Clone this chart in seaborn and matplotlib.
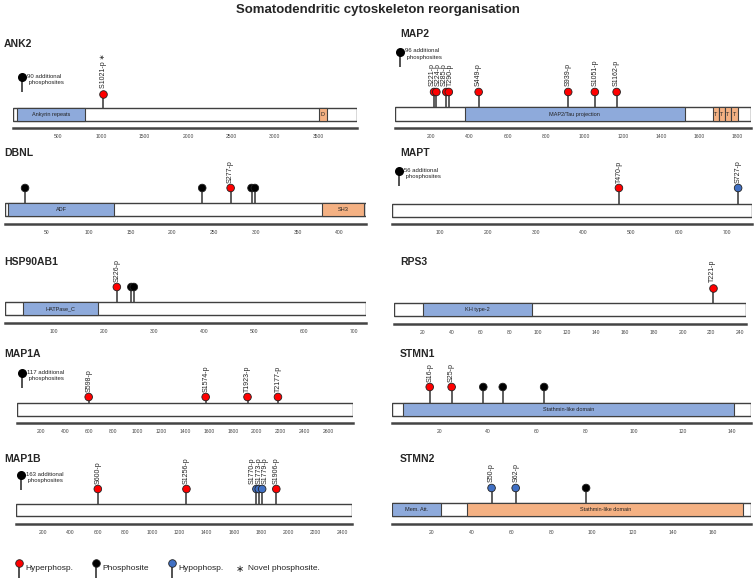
import seaborn as sns
import matplotlib.pyplot as plt
import pandas as pd

W, H = 756, 583

# ---------------- data ----------------
title = "Somatodendritic cytoskeleton reorganisation"

# residue span drawn for each protein box
ank2_span = (-20, 3950)
ank2_ticks = [500, 1000, 1500, 2000, 2500, 3000, 3500]
ank2_domains = [(30, 811, "Ankyrin repeats", "blue"), (3511, 3604, "D", "orange")]
ank2_sites = [(1021, "S1021-p \u2217", "hyper")]
ank2_extra = 90

map2_span = (10, 1870)
map2_ticks = [200, 400, 600, 800, 1000, 1200, 1400, 1600, 1800]
map2_domains = [(377, 1523, "MAP2/Tau projection", "blue"),
                (1671, 1701, "T", "orange"), (1701, 1732, "T", "orange"),
                (1732, 1764, "T", "orange"), (1764, 1800, "T", "orange")]
map2_sites = [(214, "S221-p", "hyper"), (226, "S224-p", "hyper"),
              (278, "S285-p", "hyper"), (291, "T290-p", "hyper"),
              (447, "S449-p", "hyper"), (915, "S939-p", "hyper"),
              (1054, "S1051-p", "hyper"), (1168, "S1162-p", "hyper")]
map2_extra = 96

dbnl_span = (0, 432)
dbnl_ticks = [50, 100, 150, 200, 250, 300, 350, 400]
dbnl_domains = [(3, 131, "ADF", "blue"), (379, 430, "SH3", "orange")]
dbnl_sites = [(24, "", "phospho"), (236, "", "phospho"), (270, "S277-p", "hyper"),
              (295, "", "phospho"), (299, "", "phospho")]
dbnl_extra = None

mapt_span = (0, 752)
mapt_ticks = [100, 200, 300, 400, 500, 600, 700]
mapt_domains = []
mapt_sites = [(474, "T470-p", "hyper"), (723, "S727-p", "hypo")]
mapt_extra = 56

hsp_span = (2, 725)
hsp_ticks = [100, 200, 300, 400, 500, 600, 700]
hsp_domains = [(38, 188, "HATPase_C", "blue")]
hsp_sites = [(226, "S226-p", "hyper"), (255, "", "phospho"), (260, "", "phospho")]
hsp_extra = None

rps3_span = (0, 244)
rps3_ticks = [20, 40, 60, 80, 100, 120, 140, 160, 180, 200, 220, 240]
rps3_domains = [(20, 96, "KH type-2", "blue")]
rps3_sites = [(221, "T221-p", "hyper")]
rps3_extra = None

map1a_span = (0, 2803)
map1a_ticks = [200, 400, 600, 800, 1000, 1200, 1400, 1600, 1800, 2000, 2200, 2400, 2600]
map1a_domains = []
map1a_sites = [(598, "S598-p", "hyper"), (1574, "S1574-p", "hyper"),
               (1923, "T1923-p", "hyper"), (2177, "T2177-p", "hyper")]
map1a_extra = 117

stmn1_span = (0.5, 148)
stmn1_ticks = [20, 40, 60, 80, 100, 120, 140]
stmn1_domains = [(5, 141, "Stathmin-like domain", "blue")]
stmn1_sites = [(16, "S16-p", "hyper"), (25, "S25-p", "hyper"), (38, "", "phospho"),
               (46, "", "phospho"), (63, "", "phospho")]
stmn1_extra = None

map1b_span = (0, 2468)
map1b_ticks = [200, 400, 600, 800, 1000, 1200, 1400, 1600, 1800, 2000, 2200, 2400]
map1b_domains = []
map1b_sites = [(601, "S600-p", "hyper"), (1252, "S1256-p", "hyper"),
               (1766, "S1770-p", "hypo"), (1783, "S1773-p", "hypo"),
               (1808, "S1779-p", "hypo"), (1912, "S1906-p", "hyper")]
map1b_extra = 163

stmn2_span = (0.5, 179)
stmn2_ticks = [20, 40, 60, 80, 100, 120, 140, 160]
stmn2_domains = [(0.5, 25, "Mem. Att.", "blue"), (38, 175, "Stathmin-like domain", "orange")]
stmn2_sites = [(50, "S50-p", "hypo"), (62, "S62-p", "hypo"), (97, "", "phospho")]
stmn2_extra = None

legend_labels = ["Hyperphosp.", "Phosphosite", "Hypophosp."]
legend_types = ["hyper", "phospho", "hypo"]
novel_label = "Novel phosphosite."

proteins = [
    ("ANK2", ank2_span, ank2_ticks, ank2_domains, ank2_sites, ank2_extra),
    ("MAP2", map2_span, map2_ticks, map2_domains, map2_sites, map2_extra),
    ("DBNL", dbnl_span, dbnl_ticks, dbnl_domains, dbnl_sites, dbnl_extra),
    ("MAPT", mapt_span, mapt_ticks, mapt_domains, mapt_sites, mapt_extra),
    ("HSP90AB1", hsp_span, hsp_ticks, hsp_domains, hsp_sites, hsp_extra),
    ("RPS3", rps3_span, rps3_ticks, rps3_domains, rps3_sites, rps3_extra),
    ("MAP1A", map1a_span, map1a_ticks, map1a_domains, map1a_sites, map1a_extra),
    ("STMN1", stmn1_span, stmn1_ticks, stmn1_domains, stmn1_sites, stmn1_extra),
    ("MAP1B", map1b_span, map1b_ticks, map1b_domains, map1b_sites, map1b_extra),
    ("STMN2", stmn2_span, stmn2_ticks, stmn2_domains, stmn2_sites, stmn2_extra),
]

# ---------------- layout (pixels from top-left) ----------------
# x0, x1, axis_y, box_top, box_bottom, head_y, name_x, name_y, extra icon (x, y)
layout = {
    "ANK2":     (13, 357, 128, 108, 121, 94, 4, 44, (22, 77)),
    "MAP2":     (395, 751, 128, 107, 121, 92, 400, 34, (400, 52)),
    "DBNL":     (5, 366, 224, 203, 216, 188, 4, 153, None),
    "MAPT":     (392, 752, 224, 204, 217, 188, 400, 153, (399, 171)),
    "HSP90AB1": (5, 366, 323, 302, 315, 287, 4, 262, None),
    "RPS3":     (394, 746, 324, 303, 316, 288, 400, 262, None),
    "MAP1A":    (17, 353, 423, 403, 416, 397, 4, 354, (22, 373)),
    "STMN1":    (392, 751, 423, 403, 416, 387, 400, 354, None),
    "MAP1B":    (16, 352, 524, 504, 516, 489, 4, 459, (21, 475)),
    "STMN2":    (392, 751, 524, 503, 516, 488, 400, 459, None),
}

DOM_COLORS = {"blue": "#8eaadb", "orange": "#f4b183"}
SITE_COLORS = {"hyper": "#ff0000", "phospho": "#000000", "hypo": "#4070c4"}
EDGE = "#404040"
HEAD_S = 30
LABEL_GAP = 6.5  # min px between neighbouring rotated labels


def spread_labels(px):
    # push apart labels that sit closer than LABEL_GAP, keeping each cluster centred
    groups = [[0]]
    for i in range(1, len(px)):
        if px[i] - px[groups[-1][-1]] < LABEL_GAP:
            groups[-1].append(i)
        else:
            groups.append([i])
    out = list(px)
    for g in groups:
        if len(g) > 1:
            c = sum(px[i] for i in g) / len(g)
            for k, i in enumerate(g):
                out[i] = c + (k - (len(g) - 1) / 2) * LABEL_GAP
    return out


sns.set_style("white")
plt.rcParams["font.family"] = ["Liberation Sans", "DejaVu Sans"]

fig = plt.figure(figsize=(W / 100, H / 100), dpi=100)
ov = fig.add_axes([0, 0, 1, 1], zorder=10)
ov.set_xlim(0, W)
ov.set_ylim(H, 0)
ov.axis("off")

ov.text(W / 2, 10, title, ha="center", va="center", fontsize=9.5, fontweight="bold")

for name, span, ticks, doms, sites, extra in proteins:
    x0, x1, ay, bt, bb, hy, nx, ny, ex = layout[name]
    top = ny - 10
    ax = fig.add_axes([x0 / W, 1 - ay / H, (x1 - x0) / W, (ay - top) / H])
    ax.patch.set_alpha(0)
    ax.set_xlim(*span)
    ax.set_ylim(0, ay - top)
    scale = (x1 - x0) / (span[1] - span[0])

    yc = ay - (bt + bb) / 2
    bh = bb - bt
    # protein backbone and domains
    ax.barh(yc, span[1] - span[0], left=span[0], height=bh, color="white",
            edgecolor=EDGE, linewidth=1.0, zorder=2)
    for s, e, lab, kind in doms:
        ax.barh(yc, e - s, left=s, height=bh, color=DOM_COLORS[kind],
                edgecolor=EDGE, linewidth=0.8, zorder=3)
        ax.text((s + e) / 2, yc, lab, ha="center", va="center", fontsize=4,
                color="#222", zorder=4)

    # lollipops
    df = pd.DataFrame(sites, columns=["pos", "label", "type"])
    df["y"] = ay - hy
    ax.vlines(df["pos"], ay - bt, df["y"], color="#333", linewidth=1.1, zorder=1)
    sns.scatterplot(data=df, x="pos", y="y", hue="type", palette=SITE_COLORS,
                    s=HEAD_S, edgecolor="#222", linewidth=0.6, legend=False,
                    ax=ax, zorder=5, clip_on=False)

    lab_df = df[df["label"] != ""].sort_values("pos")
    lab_px = spread_labels([(p - span[0]) * scale for p in lab_df["pos"]])
    for lx, lab in zip(lab_px, lab_df["label"]):
        ax.text(span[0] + lx / scale, ay - hy + 5.5, lab, rotation=90,
                ha="center", va="bottom", fontsize=5, color="#222")

    sns.despine(ax=ax, left=True)
    ax.spines["bottom"].set_linewidth(1.8)
    ax.spines["bottom"].set_color("#444")
    ax.set_yticks([])
    ax.set_xticks(ticks)
    ax.set_xticklabels([str(t) for t in ticks])
    ax.tick_params(axis="x", length=2.5, width=0.6, labelsize=3.6, pad=1.5,
                   colors="#444")
    ax.set_xlabel("")
    ax.set_ylabel("")

    ov.text(nx, ny, name, fontsize=7.5, fontweight="bold", va="center", ha="left")

    if extra is not None:
        exx, exy = ex
        ov.vlines(exx, exy, exy + 15, color="#222", linewidth=1.1)
        ov.scatter([exx], [exy], s=HEAD_S, color="black", zorder=5)
        ov.text(exx + 5, exy - 3.5, f"{extra} additional\n phosphosites",
                fontsize=4.3, va="top", ha="left", linespacing=1.45, color="#222")

# bottom legend
leg_x = [19, 96, 172]
for x, lab, t in zip(leg_x, legend_labels, legend_types):
    ov.vlines(x, 563, 578, color="#222", linewidth=1.1)
    ov.scatter([x], [563], s=HEAD_S, color=SITE_COLORS[t], edgecolor="#222",
               linewidth=0.6, zorder=5)
    ov.text(x + 6, 568, lab, fontsize=6, va="center", ha="left", color="#222")
ov.text(240, 569, "\u2217", fontsize=7, va="center", ha="center", color="#222",
        family="DejaVu Sans")
ov.text(248, 568, novel_label, fontsize=6, va="center", ha="left", color="#222")

fig.savefig("out.png", dpi=100)
